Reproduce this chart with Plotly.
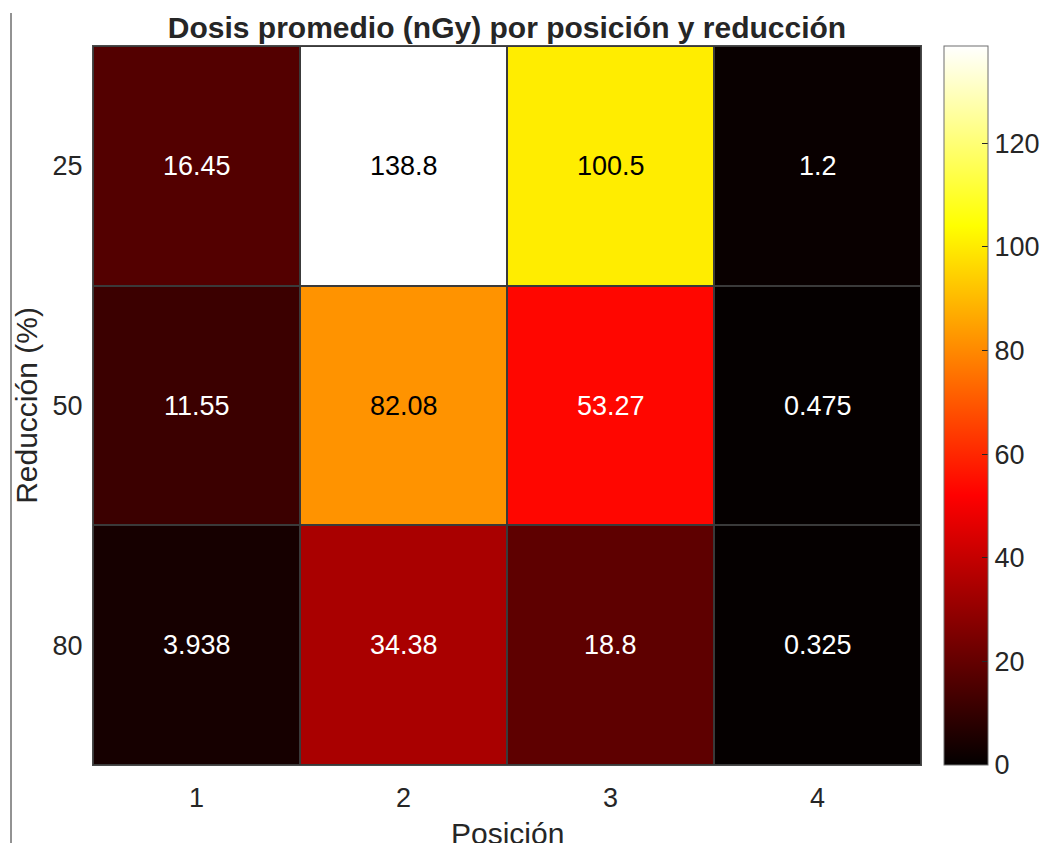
import plotly.graph_objects as go

# Average dose (nGy) by position (columns) and reduction (rows)
posiciones = [1, 2, 3, 4]
reducciones = ["25", "50", "80"]
dosis = [
    [16.45, 138.8, 100.5, 1.2],
    [11.55, 82.08, 53.27, 0.475],
    [3.938, 34.38, 18.8, 0.325],
]
etiquetas = [
    ["16.45", "138.8", "100.5", "1.2"],
    ["11.55", "82.08", "53.27", "0.475"],
    ["3.938", "34.38", "18.8", "0.325"],
]
cbar_ticks = [0, 20, 40, 60, 80, 100, 120]

zmin, zmax = 0, max(max(r) for r in dosis)
filas = list(range(len(reducciones)))

# MATLAB-style "hot" colormap
hot = [
    [0.0, "rgb(3,0,0)"],
    [0.375, "rgb(255,0,0)"],
    [0.75, "rgb(255,255,0)"],
    [1.0, "rgb(255,255,255)"],
]

W, H = 1044, 843
L, R, T, B = 93, 921, 46, 765
ink = "#262626"
font = "Liberation Sans, Arial, sans-serif"
pw, ph = R - L, B - T

fig = go.Figure()
fig.add_trace(go.Heatmap(
    z=dosis, x=posiciones, y=filas,
    colorscale=hot, zmin=zmin, zmax=zmax,
    xgap=2, ygap=2, showscale=True,
    hoverinfo="skip",
    colorbar=dict(
        x=(944 - L) / pw, xanchor="left",
        y=0, yanchor="bottom", len=1, lenmode="fraction",
        thickness=44, thicknessmode="pixels",
        outlinecolor="#6e6e6e", outlinewidth=1,
        tickvals=cbar_ticks, ticks="inside", ticklen=6, tickcolor=ink,
        tickfont=dict(family=font, size=27, color=ink),
        ypad=0, xpad=0,
    ),
))

# Value labels: dark text on bright cells, white on dark ones
for i, fila in enumerate(dosis):
    for j, v in enumerate(fila):
        col = "black" if v / zmax > 0.55 else "white"
        fig.add_annotation(
            x=posiciones[j], y=filas[i], text=etiquetas[i][j],
            showarrow=False, font=dict(family=font, size=27, color=col),
        )

# X-axis title, sitting low at the bottom edge
fig.add_annotation(
    xref="paper", yref="paper", x=0.5, y=(B - 833) / ph,
    xanchor="center", yanchor="middle", showarrow=False,
    text="Posición", font=dict(family=font, size=30, color=ink),
)

# Figure edge line on the left
fig.add_shape(
    type="line", xref="paper", yref="paper",
    x0=(11 - L) / pw, x1=(11 - L) / pw,
    y0=(B - 13) / ph, y1=(B - H - 5) / ph,
    line=dict(color=ink, width=1),
)

fig.update_layout(
    width=W, height=H,
    margin=dict(l=L, r=W - R, t=T, b=H - B, pad=0, autoexpand=False),
    paper_bgcolor="white", plot_bgcolor="#3a3a3a",
    font=dict(family=font, color=ink),
    title=dict(
        text="<b>Dosis promedio (nGy) por posición y reducción</b>",
        x=(L + R) / 2 / W, xanchor="center",
        y=1 - 27 / H, yanchor="middle",
        font=dict(family=font, size=30, color=ink),
    ),
    xaxis=dict(
        range=[0.5, 4.5], tickvals=posiciones, showgrid=False, zeroline=False,
        automargin=False,
        ticks="", tickfont=dict(size=27, color=ink), ticklabelstandoff=9,
        showline=True, mirror=True, linecolor="#4a4a4a", linewidth=1,
    ),
    yaxis=dict(
        range=[2.5, -0.5], tickvals=filas, ticktext=reducciones,
        showgrid=False, zeroline=False, automargin=False,
        ticks="", tickfont=dict(size=27, color=ink), ticklabelstandoff=4,
        showline=True, mirror=True, linecolor="#4a4a4a", linewidth=1,
        title=dict(text="Reducción (%)", font=dict(size=30, color=ink), standoff=6),
    ),
)

fig.write_html("out.html")
